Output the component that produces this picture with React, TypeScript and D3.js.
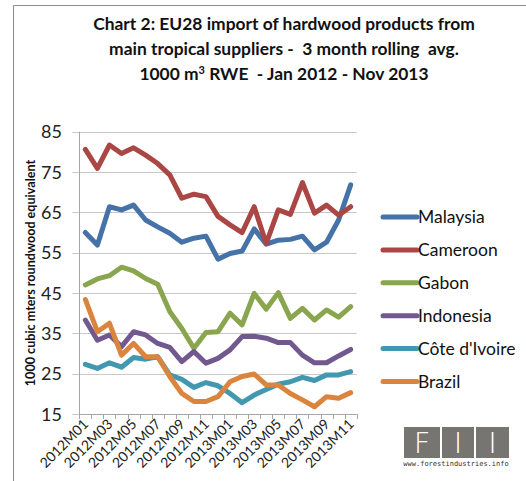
import React, { useEffect, useRef } from 'react';
import * as d3 from 'd3';

const months = [
  '2012M01', '2012M02', '2012M03', '2012M04', '2012M05', '2012M06', '2012M07', '2012M08',
  '2012M09', '2012M10', '2012M11', '2012M12', '2013M01', '2013M02', '2013M03', '2013M04',
  '2013M05', '2013M06', '2013M07', '2013M08', '2013M09', '2013M10', '2013M11',
];

const malaysia = [60.0, 56.9, 66.4, 65.6, 66.8, 63.1, 61.4, 59.8, 57.6, 58.6, 59.1, 53.4, 54.8, 55.4, 60.9, 57.1, 58.1, 58.3, 59.1, 55.7, 57.6, 63.1, 71.8];
const cameroon = [80.6, 75.9, 81.7, 79.6, 81.0, 79.2, 77.1, 74.3, 68.5, 69.5, 68.9, 64.0, 61.9, 60.0, 66.4, 57.3, 65.6, 64.5, 72.4, 64.8, 66.8, 64.3, 66.4];
const gabon = [47.0, 48.5, 49.3, 51.4, 50.5, 48.6, 47.2, 40.4, 36.2, 31.3, 35.2, 35.4, 40.0, 37.1, 44.9, 41.0, 45.1, 38.7, 41.2, 38.3, 40.8, 39.0, 41.6];
const indonesia = [38.3, 33.3, 34.6, 31.7, 35.4, 34.6, 32.5, 31.5, 28.0, 30.5, 27.6, 28.8, 30.9, 34.2, 34.3, 33.8, 32.7, 32.7, 29.6, 27.7, 27.7, 29.4, 31.0];
const coteDIvoire = [27.3, 26.3, 27.7, 26.6, 29.0, 28.6, 29.2, 24.7, 23.6, 21.6, 22.8, 22.0, 20.1, 17.8, 19.7, 21.1, 22.4, 23.0, 24.1, 23.3, 24.7, 24.7, 25.5];
const brazil = [43.4, 35.4, 37.5, 29.6, 32.5, 29.2, 29.2, 24.3, 20.1, 18.1, 18.1, 19.3, 23.0, 24.3, 24.9, 22.2, 22.2, 20.1, 18.5, 16.8, 19.3, 18.9, 20.3];

const seriesNames = ['Malaysia', 'Cameroon', 'Gabon', 'Indonesia', "Côte d'Ivoire", 'Brazil'];
const seriesColors = ['#4572A7', '#AA4643', '#89A54E', '#71588F', '#4198AF', '#DB843D'];
const seriesValues = [malaysia, cameroon, gabon, indonesia, coteDIvoire, brazil];

const yTicks = [15, 25, 35, 45, 55, 65, 75, 85];
const titleLines = [
  'Chart 2: EU28 import of hardwood products from',
  'main tropical suppliers -  3 month rolling  avg.',
];

const W = 526;
const H = 481;
const FONT = 'Lato, "Open Sans", sans-serif';

const App: React.FC = () => {
  const svgRef = useRef<SVGSVGElement>(null);

  useEffect(() => {
    if (!svgRef.current) return;
    const svg = d3.select(svgRef.current);
    svg.selectAll('*').remove();

    const margin = { top: 131.7, right: W - 356.7, bottom: H - 414, left: 79.3 };

    // outer frame
    svg.append('path')
      .attr('d', `M13.5,${H} V5.5 H${W}`)
      .attr('fill', 'none')
      .attr('stroke', '#8c8c8c')
      .attr('stroke-width', 1);

    // title
    const title = svg.append('text')
      .attr('text-anchor', 'middle')
      .attr('font-family', FONT)
      .attr('font-weight', 'bold')
      .attr('font-size', 17.4)
      .attr('fill', '#111')
      .style('white-space', 'pre');
    titleLines.forEach((t, i) => {
      title.append('tspan').attr('x', 284).attr('y', 30 + i * 25).text(t);
    });
    const l3 = title.append('tspan').attr('x', 284).attr('y', 80);
    l3.append('tspan').text('1000 m');
    l3.append('tspan').attr('font-size', 11).attr('dy', -6).text('3');
    l3.append('tspan').attr('dy', 6).text(' RWE  - Jan 2012 - Nov 2013');

    const x = d3.scaleBand<string>()
      .domain(months)
      .range([margin.left, W - margin.right])
      .padding(0);
    const y = d3.scaleLinear()
      .domain([15, 85])
      .range([H - margin.bottom, margin.top]);
    const cx = (m: string) => (x(m) || 0) + x.bandwidth() / 2;

    // gridlines + y ticks
    const grid = svg.append('g');
    yTicks.forEach(t => {
      grid.append('line')
        .attr('x1', margin.left - 7)
        .attr('x2', t === 15 ? margin.left : W - margin.right)
        .attr('y1', Math.round(y(t)) + 0.5)
        .attr('y2', Math.round(y(t)) + 0.5)
        .attr('stroke', '#c8c8c8')
        .attr('stroke-width', 1);
      grid.append('text')
        .attr('x', 62)
        .attr('y', y(t) + 6.5)
        .attr('text-anchor', 'end')
        .attr('font-family', FONT)
        .attr('font-size', 18)
        .attr('fill', '#222')
        .text(t);
    });

    // axes lines
    svg.append('line')
      .attr('x1', Math.round(margin.left) + 0.5).attr('x2', Math.round(margin.left) + 0.5)
      .attr('y1', margin.top).attr('y2', H - margin.bottom)
      .attr('stroke', '#a6a6a6');
    svg.append('line')
      .attr('x1', margin.left).attr('x2', W - margin.right)
      .attr('y1', Math.round(y(15)) + 0.5).attr('y2', Math.round(y(15)) + 0.5)
      .attr('stroke', '#a6a6a6');
    months.concat(['end']).forEach((m, i) => {
      const xx = margin.left + i * x.bandwidth();
      svg.append('line')
        .attr('x1', Math.round(xx) + 0.5).attr('x2', Math.round(xx) + 0.5)
        .attr('y1', y(15)).attr('y2', y(15) + 5)
        .attr('stroke', '#a6a6a6');
    });

    // x labels (every other)
    months.forEach((m, i) => {
      if (i % 2 !== 0) return;
      svg.append('text')
        .attr('transform', `translate(${cx(m) + 4},${y(15) + 11}) rotate(-45)`)
        .attr('text-anchor', 'end')
        .attr('font-family', FONT)
        .attr('font-size', 14)
        .attr('fill', '#222')
        .text(m);
    });

    // y label
    svg.append('text')
      .attr('transform', `translate(34.5,273) rotate(-90)`)
      .attr('text-anchor', 'middle')
      .attr('font-family', FONT)
      .attr('font-weight', 'bold')
      .attr('font-size', 12.6)
      .attr('fill', '#111')
      .text('1000 cubic mters roundwood equivalent');

    // series
    const line = d3.line<number>()
      .x((_d, i) => cx(months[i]))
      .y(d => y(d));
    seriesValues.forEach((vals, k) => {
      svg.append('path')
        .datum(vals)
        .attr('d', line)
        .attr('fill', 'none')
        .attr('stroke', seriesColors[k])
        .attr('stroke-width', 5)
        .attr('stroke-linejoin', 'round')
        .attr('stroke-linecap', 'round');
    });

    // legend
    const legend = svg.append('g').attr('transform', 'translate(383,217)');
    seriesNames.forEach((name, k) => {
      const g = legend.append('g').attr('transform', `translate(0,${k * 32.9})`);
      g.append('line')
        .attr('x1', 0).attr('x2', 34).attr('y1', 0).attr('y2', 0)
        .attr('stroke', seriesColors[k])
        .attr('stroke-width', 5)
        .attr('stroke-linecap', 'round');
      g.append('text')
        .attr('x', 35)
        .attr('y', 6)
        .attr('font-family', FONT)
        .attr('font-size', 17.5)
        .attr('fill', '#111')
        .text(name);
    });

    // FII logo
    const logo = svg.append('g');
    [[404, 36], [442, 32], [476, 33]].forEach(([lx, lw], i) => {
      logo.append('rect')
        .attr('x', lx).attr('y', 427).attr('width', lw).attr('height', 31)
        .attr('fill', '#777571');
      logo.append('text')
        .attr('x', lx + lw / 2)
        .attr('y', 453)
        .attr('text-anchor', 'middle')
        .attr('font-family', '"DejaVu Sans", sans-serif')
        .attr('font-weight', 200)
        .attr('font-size', 29)
        .attr('fill', '#fff')
        .text(i === 0 ? 'F' : 'I');
    });
    logo.append('text')
      .attr('x', 456)
      .attr('y', 466)
      .attr('text-anchor', 'middle')
      .attr('font-family', '"DejaVu Sans Mono", monospace')
      .attr('font-size', 7)
      .attr('fill', '#333')
      .text('www.forestindustries.info');
  }, []);

  return (
    <svg
      ref={svgRef}
      width={W}
      height={H}
      style={{ position: 'absolute', left: 0, top: 0, background: '#fff' }}
    />
  );
};

export default App;
